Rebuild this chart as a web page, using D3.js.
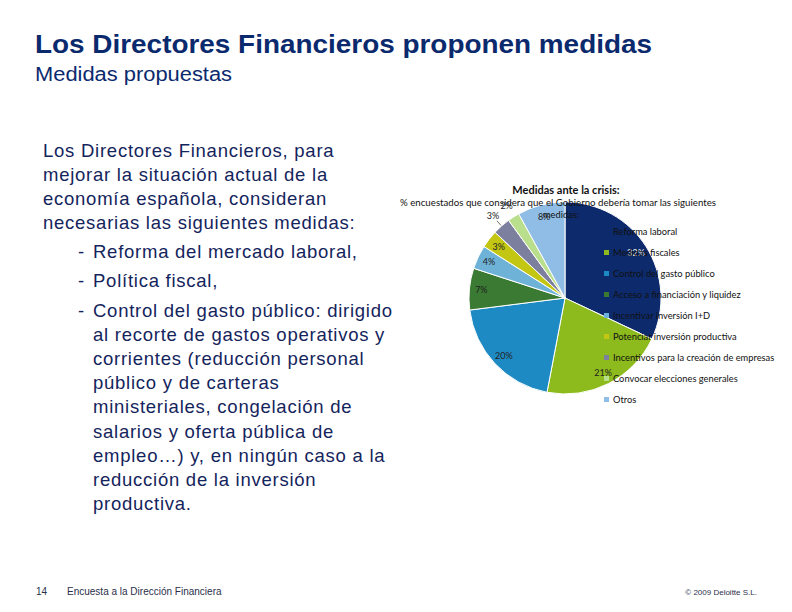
<!DOCTYPE html>
<html>
<head>
<meta charset="utf-8">
<script src="https://cdn.jsdelivr.net/npm/d3@7"></script>
<style>
  body { margin: 0; background: #fff; }
  svg { display: block; }
</style>
</head>
<body>
<svg id="chart" width="792" height="612"></svg>
<script>
// chart data
var categories = ["Reforma laboral", "Medidas fiscales", "Control del gasto público",
  "Acceso a financiación y liquidez", "Incentivar inversión I+D",
  "Potenciar inversión productiva", "Incentivos para la creación de empresas",
  "Convocar elecciones generales", "Otros"];
var values = [32, 21, 20, 7, 4, 3, 3, 2, 8];
var colors = ["#0d2a6c", "#8dba1c", "#1e8ac4", "#3b7a32", "#6fb2d8",
  "#c3c714", "#7d7f9e", "#b9de8c", "#8fbde6"];
var outsideLabel = [false, false, false, false, false, false, true, true, false];

var bodyLines = [
  "Los Directores Financieros, para",
  "mejorar la situación actual de la",
  "economía española, consideran",
  "necesarias las siguientes medidas:"
];
var bullets = [
  ["Reforma del mercado laboral,"],
  ["Política fiscal,"],
  ["Control del gasto público: dirigido", "al recorte de gastos operativos y",
   "corrientes (reducción personal", "público y de carteras",
   "ministeriales, congelación de", "salarios y oferta pública de",
   "empleo…) y, en ningún caso a la", "reducción de la inversión", "productiva."]
];

var svg = d3.select("#chart");
var navy = "#0b2a6e";
var textCol = "#14245c";

// header
svg.append("text").attr("x", 35).attr("y", 53)
  .attr("font-family", "Liberation Sans, Arial").attr("font-weight", "bold")
  .attr("font-size", "26px").attr("fill", navy)
  .attr("textLength", 617).attr("lengthAdjust", "spacingAndGlyphs")
  .text("Los Directores Financieros proponen medidas");
svg.append("text").attr("x", 35).attr("y", 81)
  .attr("font-family", "Liberation Sans, Arial")
  .attr("font-size", "19.5px").attr("fill", navy)
  .attr("textLength", 197).attr("lengthAdjust", "spacingAndGlyphs")
  .text("Medidas propuestas");

// body text
var body = svg.append("g").attr("font-family", "Liberation Sans, Arial")
  .attr("font-size", "18.5px").attr("letter-spacing", "0.75px").attr("fill", textCol);
body.selectAll("text.intro").data(bodyLines).enter().append("text")
  .attr("class", "intro")
  .attr("x", 43)
  .attr("y", function(d, i) { return 157 + i * 24; })
  .text(function(d) { return d; });

var by = [258, 287, 317];
bullets.forEach(function(lines, b) {
  body.append("text").attr("x", 78).attr("y", by[b]).text("-");
  lines.forEach(function(l, j) {
    body.append("text").attr("x", 93).attr("y", by[b] + j * 24.1).text(l);
  });
});

// pie
var cx = 565, cy = 298, r = 96;
var pie = d3.pie().sort(null).value(function(d) { return d; });
var arcs = pie(values);
var arc = d3.arc().innerRadius(0).outerRadius(r);
var labelArc = d3.arc().innerRadius(84).outerRadius(84);
var outerArc = d3.arc().innerRadius(109).outerRadius(109);

var g = svg.append("g").attr("transform", "translate(" + cx + "," + cy + ")");
g.selectAll("path").data(arcs).enter().append("path")
  .attr("d", arc)
  .attr("fill", function(d, i) { return colors[i]; })
  .attr("stroke", "#fff").attr("stroke-width", 1);

// chart title
var ct = svg.append("g").attr("font-family", "Lato, sans-serif").attr("text-anchor", "middle");
ct.append("text").attr("x", 566).attr("y", 194).attr("font-weight", "bold")
  .attr("font-size", "11px").attr("fill", "#111").text("Medidas ante la crisis:");
ct.append("text").attr("x", 558).attr("y", 206).attr("font-size", "9.3px").attr("fill", "#111")
  .attr("textLength", 316).attr("lengthAdjust", "spacingAndGlyphs")
  .text("% encuestados que considera que el Gobierno debería tomar las siguientes");
ct.append("text").attr("x", 561).attr("y", 218).attr("font-size", "9.3px").attr("fill", "#111")
  .text("medidas:");

// leader line for outside label
var lead1 = d3.arc().innerRadius(97).outerRadius(97);
var lead2 = d3.arc().innerRadius(103).outerRadius(103);
g.selectAll("line.lead").data(arcs.filter(function(d, i) { return i === 6; }))
  .enter().append("line")
  .attr("x1", function(d) { return lead1.centroid(d)[0]; })
  .attr("y1", function(d) { return lead1.centroid(d)[1]; })
  .attr("x2", function(d) { return lead2.centroid(d)[0]; })
  .attr("y2", function(d) { return lead2.centroid(d)[1]; })
  .attr("stroke", "#333").attr("stroke-width", 0.7);

// legend
var ly = d3.scaleLinear().domain([0, 8]).range([232, 400]);
var leg = svg.append("g").attr("font-family", "Lato, sans-serif").attr("font-size", "9.3px");
var item = leg.selectAll("g").data(categories).enter().append("g")
  .attr("transform", function(d, i) { return "translate(604," + ly(i) + ")"; });
item.append("rect").attr("x", 0).attr("y", -3).attr("width", 5).attr("height", 5)
  .attr("fill", function(d, i) { return colors[i]; });
item.append("text").attr("x", 9).attr("y", 3).attr("fill", "#111")
  .text(function(d) { return d; });

// data labels
g.selectAll("text.lab").data(arcs).enter().append("text")
  .attr("class", "lab")
  .attr("transform", function(d, i) {
    var c = outsideLabel[i] ? outerArc.centroid(d) : labelArc.centroid(d);
    return "translate(" + c[0] + "," + (c[1] + 3) + ")";
  })
  .attr("text-anchor", "middle")
  .attr("font-family", "Lato, sans-serif").attr("font-size", "9px")
  .attr("fill", function(d, i) { return i === 0 ? "#fff" : "#222"; })
  .text(function(d) { return d.data + "%"; });

// footer
var ft = svg.append("g").attr("font-family", "Liberation Sans, Arial").attr("fill", "#2a2f4a");
ft.append("text").attr("x", 36).attr("y", 595).attr("font-size", "10px").text("14");
ft.append("text").attr("x", 67).attr("y", 595).attr("font-size", "10px").text("Encuesta a la Dirección Financiera");
ft.append("text").attr("x", 757).attr("y", 595).attr("font-size", "8px").attr("text-anchor", "end").text("© 2009 Deloitte S.L.");
</script>
</body>
</html>
